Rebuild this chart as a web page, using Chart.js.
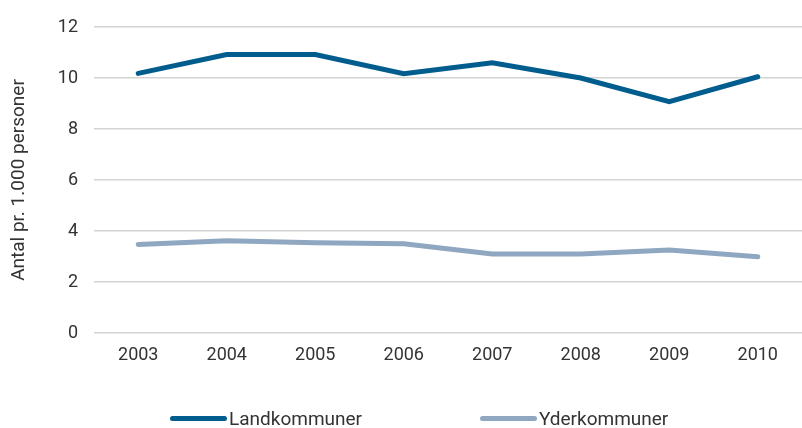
<!DOCTYPE html>
<html>
<head>
<meta charset="utf-8">
<script src="https://cdn.jsdelivr.net/npm/chart.js@4"></script>
<style>
  body { margin: 0; background: #fff; }
  #wrap { position: relative; width: 802px; height: 428px; }
  #legend { position: absolute; top: 407px; left: 0; width: 802px; font-family: Roboto, sans-serif; font-size: 19px; color: #333; }
  .item { position: absolute; display: flex; align-items: center; }
  .swatch { width: 57px; height: 5px; border-radius: 3px; margin-right: 2px; }
</style>
</head>
<body>
<div id="wrap">
  <canvas id="grafico" width="802" height="428"></canvas>
  <div id="legend"></div>
</div>
<script>
const anos = ['2003', '2004', '2005', '2006', '2007', '2008', '2009', '2010'];
const landkommuner = [10.18, 10.92, 10.92, 10.17, 10.6, 10.0, 9.07, 10.05];
const yderkommuner = [3.47, 3.62, 3.54, 3.5, 3.1, 3.1, 3.25, 2.99];
const seriesNavne = ['Landkommuner', 'Yderkommuner'];
const farver = ['#005d8e', '#8fa7c0'];

const fonte = 'Roboto, sans-serif';

const ctx = document.getElementById('grafico').getContext('2d');
const grafico = new Chart(ctx, {
    type: 'line',
    data: {
        labels: anos,
        datasets: [landkommuner, yderkommuner].map((valores, i) => ({
            label: seriesNavne[i],
            data: valores,
            borderColor: farver[i],
            borderWidth: 5,
            borderCapStyle: 'round',
            pointRadius: 0,
            fill: false,
            tension: 0
        }))
    },
    options: {
        responsive: false,
        animation: false,
        layout: { padding: { top: 27, right: 0, left: 8, bottom: 0 } },
        plugins: {
            legend: { display: false },
            tooltip: { enabled: false }
        },
        scales: {
            x: {
                offset: true,
                grid: { display: false, drawTicks: false },
                border: { display: false },
                ticks: { color: '#333', font: { family: fonte, size: 18 }, padding: 12 },
                afterFit: (scale) => { scale.height = 95; }
            },
            y: {
                min: 0,
                max: 12,
                ticks: { stepSize: 2, color: '#333', font: { family: fonte, size: 18 }, padding: 16 },
                grid: { color: '#d3d3d3', lineWidth: 1.5, drawTicks: false },
                border: { display: false },
                title: { display: true, text: 'Antal pr. 1.000 personer', color: '#333', font: { family: fonte, size: 19 }, padding: 0 },
                afterFit: (scale) => { scale.width = 86; }
            }
        }
    }
});

// legende under grafen
const legend = document.getElementById('legend');
const legendX = [170, 480];
grafico.data.datasets.forEach((ds, i) => {
    const item = document.createElement('div');
    item.className = 'item';
    item.style.left = legendX[i] + 'px';
    const sw = document.createElement('span');
    sw.className = 'swatch';
    sw.style.background = ds.borderColor;
    const txt = document.createElement('span');
    txt.textContent = ds.label;
    item.appendChild(sw);
    item.appendChild(txt);
    legend.appendChild(item);
});
</script>
</body>
</html>
